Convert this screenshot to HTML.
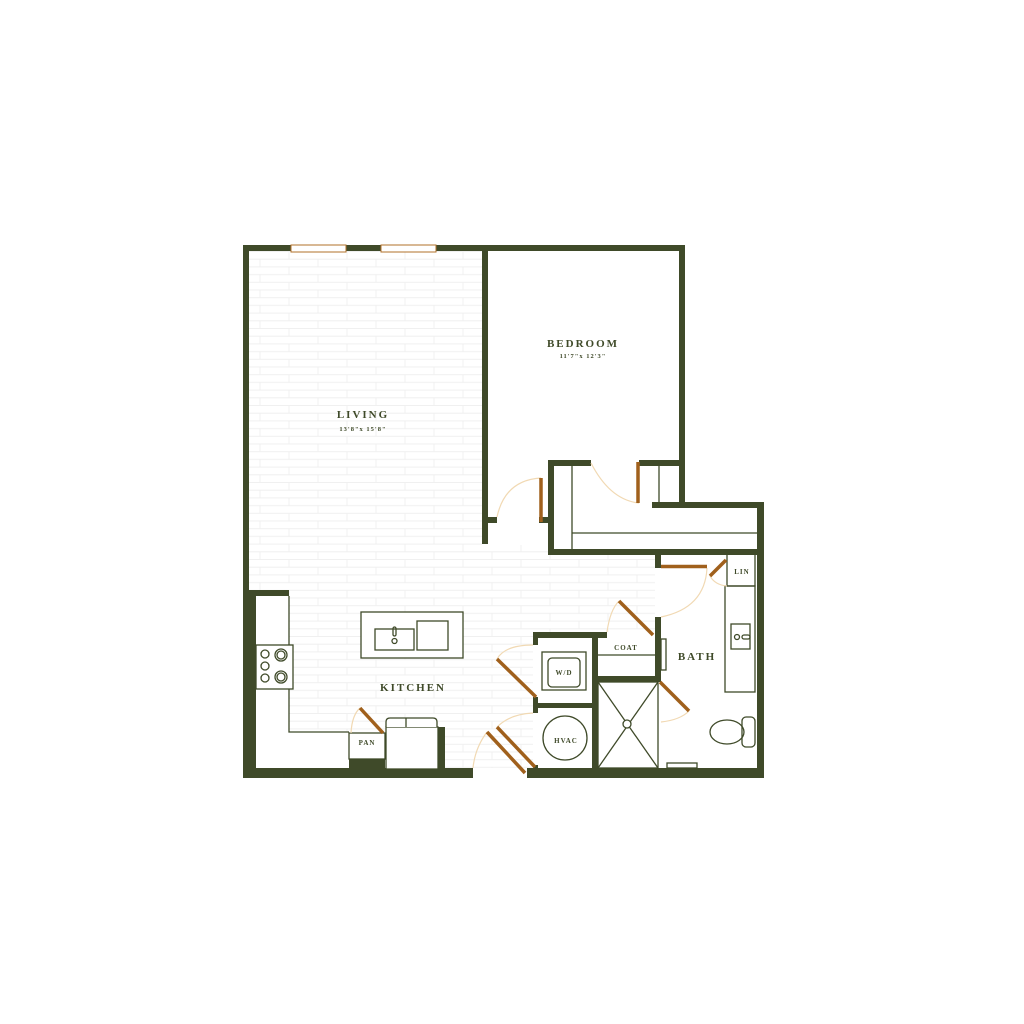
<!DOCTYPE html>
<html><head><meta charset="utf-8"><style>
html,body{margin:0;padding:0;background:#fff;}
svg{display:block;}
text{font-family:"Liberation Serif",serif;fill:#3f4a29;font-weight:bold;text-anchor:middle;}
</style></head><body>
<svg width="1024" height="1024" viewBox="0 0 1024 1024" xmlns="http://www.w3.org/2000/svg">
<defs>
<pattern id="brick" x="249" y="251" width="116" height="15.4" patternUnits="userSpaceOnUse">
<rect width="116" height="15.4" fill="#fff"/>
<line x1="0" y1="0.5" x2="116" y2="0.5" stroke="#f0f0f0" stroke-width="1"/>
<line x1="0" y1="8.2" x2="116" y2="8.2" stroke="#f0f0f0" stroke-width="1"/>
<line x1="40" y1="0.5" x2="40" y2="8.2" stroke="#f0f0f0" stroke-width="1"/>
<line x1="98" y1="0.5" x2="98" y2="8.2" stroke="#f0f0f0" stroke-width="1"/>
<line x1="11" y1="8.2" x2="11" y2="15.4" stroke="#f0f0f0" stroke-width="1"/>
<line x1="69" y1="8.2" x2="69" y2="15.4" stroke="#f0f0f0" stroke-width="1"/>
</pattern>
</defs>
<polygon fill="url(#brick)" points="249,251 482,251 482,545 548,545 548,555 655,555 655,632 533,632 533,768 473,768 256,768 256,596 249,596"/>
<path d="M256,596 L289,596 L289,732 L349,732 L349,768 L256,768 Z" fill="#fff"/>
<rect x="537" y="637" width="56" height="131" fill="#fff"/>
<g fill="#3f4a29">
<rect x="243" y="245" width="6" height="533"/>
<rect x="243" y="245" width="442" height="6"/>
<rect x="679" y="245" width="6" height="262"/>
<rect x="652" y="502" width="112" height="6"/>
<rect x="757" y="502" width="7" height="276"/>
<rect x="243" y="768" width="230" height="10"/>
<rect x="527" y="768" width="237" height="10"/>
<rect x="243" y="590" width="13" height="188"/>
<rect x="243" y="590" width="46" height="6"/>
<rect x="482" y="251" width="6" height="293"/>
<rect x="482" y="517" width="15" height="6"/>
<rect x="539" y="517" width="10" height="6"/>
<rect x="548" y="460" width="6" height="95"/>
<rect x="548" y="460" width="43" height="6"/>
<rect x="639" y="460" width="46" height="6"/>
<rect x="548" y="549" width="216" height="6"/>
<rect x="655" y="554" width="6" height="14"/>
<rect x="655" y="617" width="6" height="63"/>
<rect x="592" y="632" width="6" height="146"/>
<rect x="592" y="676" width="69" height="6"/>
<rect x="533" y="632" width="74" height="6"/>
<rect x="533" y="632" width="5" height="13"/>
<rect x="533" y="697" width="5" height="16"/>
<rect x="533" y="703" width="62" height="5"/>
<rect x="533" y="765" width="5" height="13"/>
<rect x="349" y="759" width="36" height="10"/>
<rect x="438" y="727" width="7" height="42"/>
</g>
<g fill="none" stroke="#3f4a29" stroke-width="1.3">
<path d="M289,596 L289,732 L349,732"/>
<line x1="572" y1="466" x2="572" y2="549"/>
<line x1="572" y1="533" x2="757" y2="533"/>
<line x1="659" y1="466" x2="659" y2="502"/>
<rect x="256" y="645" width="37" height="44" fill="#fff"/>
<circle cx="265" cy="654" r="4"/><circle cx="265" cy="666" r="4"/><circle cx="265" cy="678" r="4"/>
<circle cx="281" cy="655" r="6"/><circle cx="281" cy="655" r="4"/>
<circle cx="281" cy="677" r="6"/><circle cx="281" cy="677" r="4"/>
<rect x="349" y="733" width="36" height="26" fill="#fff"/>
<rect x="386" y="727" width="52" height="42" fill="#fff"/>
<path d="M386,727 L386,722 Q386,718 390,718 L433,718 Q437,718 437,722 L437,727" fill="#fff"/>
<line x1="406" y1="718" x2="406" y2="727"/>
<rect x="361" y="612" width="102" height="46" fill="#fff"/>
<rect x="375" y="629" width="39" height="21"/>
<rect x="417" y="621" width="31" height="29"/>
<rect x="393" y="627" width="3" height="9" rx="1.5"/>
<circle cx="394.5" cy="641" r="2.5"/>
<rect x="542" y="652" width="44" height="38"/>
<rect x="548" y="658" width="32" height="29" rx="4"/>
<circle cx="565" cy="738" r="22"/>
<line x1="598" y1="655" x2="655" y2="655"/>
<rect x="661" y="639" width="5" height="31"/>
<rect x="598" y="682" width="60" height="86"/>
<line x1="598" y1="682" x2="658" y2="768"/>
<line x1="658" y1="682" x2="598" y2="768"/>
<circle cx="627" cy="724" r="4" fill="#fff"/>
<rect x="727" y="554" width="28" height="32"/>
<rect x="725" y="586" width="30" height="106"/>
<rect x="731" y="624" width="19" height="25"/>
<circle cx="737" cy="637" r="2.5"/>
<rect x="742" y="635" width="8" height="4" rx="2"/>
<ellipse cx="727" cy="732" rx="17" ry="12"/>
<rect x="742" y="717" width="13" height="30" rx="4"/>
<rect x="667" y="763" width="30" height="5"/>
</g>
<g fill="none" stroke="#f1d9b3" stroke-width="1.2">
<path d="M497,517 Q505,480 541,478"/>
<path d="M591,463 Q610,500 639,503"/>
<path d="M707,568 Q705,608 661,617"/>
<path d="M710,576 Q715,585 727,586"/>
<path d="M619,601 Q610,610 607,632"/>
<path d="M497,659 Q505,645 533,645"/>
<path d="M497,727 Q510,714 533,713"/>
<path d="M487,732 Q475,748 473,768"/>
<path d="M360,708 Q352,715 351,733"/>
<path d="M689,711 Q680,720 661,722"/>
</g>
<g stroke="#a0601c" stroke-width="3.5" fill="none">
<line x1="541" y1="478" x2="541" y2="522"/>
<line x1="638" y1="462" x2="638" y2="503"/>
<line x1="661" y1="566.5" x2="707" y2="566.5"/>
<line x1="710" y1="576" x2="726" y2="560"/>
<line x1="619" y1="601" x2="653" y2="635"/>
<line x1="497" y1="659" x2="536" y2="697"/>
<line x1="497" y1="727" x2="535" y2="767"/>
<line x1="487" y1="732" x2="525" y2="773"/>
<line x1="360" y1="708" x2="383" y2="733"/>
<line x1="660" y1="682" x2="689" y2="711"/>
</g>
<rect x="291" y="245" width="55" height="7" fill="#fff" stroke="#b0702a" stroke-width="1"/>
<rect x="381" y="245" width="55" height="7" fill="#fff" stroke="#b0702a" stroke-width="1"/>
<text x="363" y="418" font-size="11" letter-spacing="2">LIVING</text>
<text x="363" y="431" font-size="6.5" font-weight="normal" letter-spacing="1">13'8"x 15'8"</text>
<text x="583" y="347" font-size="11" letter-spacing="2">BEDROOM</text>
<text x="583" y="358" font-size="6.5" font-weight="normal" letter-spacing="1">11'7"x 12'3"</text>
<text x="413" y="691" font-size="11" letter-spacing="2">KITCHEN</text>
<text x="697" y="660" font-size="11" letter-spacing="2">BATH</text>
<text x="367" y="745" font-size="7" letter-spacing="1">PAN</text>
<text x="564" y="675" font-size="7" letter-spacing="1">W/D</text>
<text x="566" y="743" font-size="7" letter-spacing="1">HVAC</text>
<text x="742" y="574" font-size="7" letter-spacing="1">LIN</text>
<text x="626" y="650" font-size="7" letter-spacing="1">COAT</text>
</svg>
</body></html>
